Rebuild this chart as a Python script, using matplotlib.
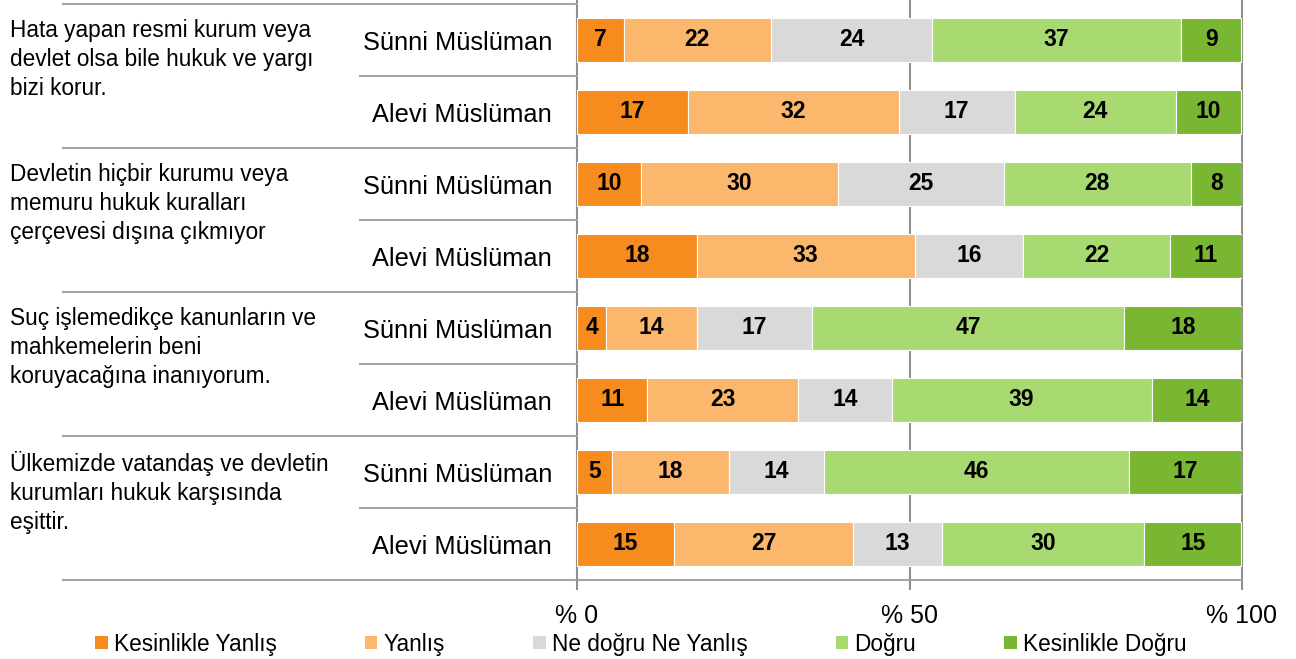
import matplotlib
matplotlib.use('Agg')
import matplotlib.pyplot as plt
from matplotlib.patches import Patch
from matplotlib import font_manager

available = {f.name for f in font_manager.fontManager.ttflist}
FONT = 'Liberation Sans' if 'Liberation Sans' in available else 'DejaVu Sans'
plt.rcParams['font.family'] = [FONT, 'DejaVu Sans']

# ---------------- data ----------------
questions = [
    "Hata yapan resmi kurum veya\ndevlet olsa bile hukuk ve yargı\nbizi korur.",
    "Devletin hiçbir kurumu veya\nmemuru hukuk kuralları\nçerçevesi dışına çıkmıyor",
    "Suç işlemedikçe kanunların ve\nmahkemelerin beni\nkoruyacağına inanıyorum.",
    "Ülkemizde vatandaş ve devletin\nkurumları hukuk karşısında\neşittir.",
]
groups = ["Sünni Müslüman", "Alevi Müslüman"]
bar_labels = [g for _ in questions for g in groups]
categories = ["Kesinlikle Yanlış", "Yanlış", "Ne doğru Ne Yanlış", "Doğru", "Kesinlikle Doğru"]

kesinlikle_yanlis = [7.0, 16.7, 9.6, 18.0, 4.4, 10.6, 5.2, 14.6]
yanlis            = [22.2, 31.7, 29.6, 32.8, 13.6, 22.7, 17.6, 26.9]
ne_dogru          = [24.2, 17.4, 25.0, 16.3, 17.4, 14.0, 14.4, 13.4]
dogru             = [37.4, 24.2, 28.1, 22.1, 46.9, 39.1, 45.8, 30.4]
kesinlikle_dogru  = [9.1, 9.9, 7.7, 10.8, 17.7, 13.6, 17.0, 14.6]
series = [kesinlikle_yanlis, yanlis, ne_dogru, dogru, kesinlikle_dogru]

xticks = [0, 50, 100]
xtick_labels = ["% 0", "% 50", "% 100"]

colors = ['#F78C1E', '#FBB76B', '#D9D9D9', '#A8DA71', '#79B733']
grid_color = '#8F8F8F'
sep_color = '#A6A6A6'

# ---------------- figure ----------------
W, H = 1296, 659
fig = plt.figure(figsize=(W / 100, H / 100), dpi=100)
x0, x1, ytop, ybot = 577, 1242, 4, 580
ax = fig.add_axes([x0 / W, 1 - ybot / H, (x1 - x0) / W, (ybot - ytop) / H])

ypos = list(range(len(bar_labels)))
left = [0.0] * len(bar_labels)
for vals, col, name in zip(series, colors, categories):
    bars = ax.barh(ypos, vals, left=left, height=0.61, color=col,
                   edgecolor='white', linewidth=0.8, label=name, zorder=2)
    for b, v in zip(bars, vals):
        ax.text(b.get_x() + b.get_width() / 2, b.get_y() + b.get_height() / 2,
                f"{v:.0f}", ha='center', va='center', fontsize=16.5,
                fontweight='bold', color='black', zorder=3)
    left = [l + v for l, v in zip(left, vals)]

ax.set_xlim(0, 100)
ax.set_ylim(len(bar_labels) - 0.5, -0.5)
for s in ax.spines.values():
    s.set_visible(False)

# vertical gridlines
for xt in xticks:
    ax.axvline(xt, ymin=0, ymax=1 + 4 / 576, color=grid_color, lw=1.5,
               zorder=1, clip_on=False)
ax.set_xticks(xticks)
ax.set_xticklabels(xtick_labels, fontsize=18)
ax.tick_params(axis='x', direction='out', length=7, width=1.5,
               color=grid_color, pad=10)

ax.set_yticks(ypos)
ax.set_yticklabels(bar_labels, fontsize=18.3)
ax.tick_params(axis='y', length=0, pad=18)

# separators in category area
tr = ax.get_yaxis_transform()
xl_outer = (63 - x0) / (x1 - x0)
xl_inner = (360 - x0) / (x1 - x0)
n = len(bar_labels)
for k in range(n + 1):
    y = k - 0.5
    if k % 2 == 0:
        xr = 1.0 if k == n else 0.0
        ax.plot([xl_outer, xr], [y, y], transform=tr, color=sep_color,
                lw=1.5, clip_on=False, zorder=1)
    else:
        ax.plot([xl_inner, 0.0], [y, y], transform=tr, color=sep_color,
                lw=1.5, clip_on=False, zorder=1)

# question texts
for i, q in enumerate(questions):
    ax.text((10 - x0) / (x1 - x0), 2 * i - 0.5 + 15 / 72, q, transform=tr,
            ha='left', va='top', fontsize=16.3, linespacing=1.33)

# legend
handles = [Patch(facecolor=c, edgecolor='none') for c in colors]
fig.legend(handles, categories, loc='center left',
           bbox_to_anchor=(95 / W, 1 - 644 / H), ncol=5, frameon=False,
           fontsize=16.3, handlelength=0.56, handleheight=0.56,
           handletextpad=0.28, columnspacing=3.88, borderpad=0, borderaxespad=0)

fig.savefig('out.png', dpi=100)
